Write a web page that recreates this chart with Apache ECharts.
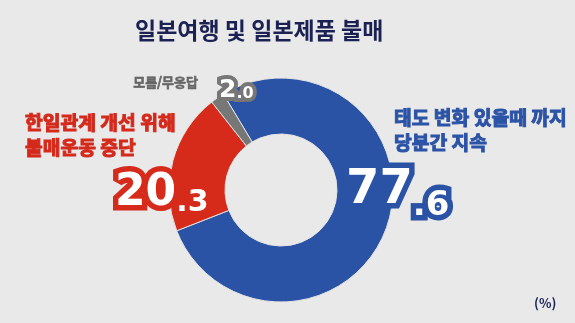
<!DOCTYPE html>
<html><head><meta charset="utf-8">
<script src="https://cdn.jsdelivr.net/npm/echarts@6/dist/echarts.min.js"></script>
<style>html,body{margin:0;padding:0;background:#e9e9e9}#c{width:575px;height:323px}</style>
</head><body><div id="c"></div>
<script>
const chartTitle = '일본여행 및 일본제품 불매';
const unitLabel = '(%)';
const categories = ['태도 변화 있을때 까지\n당분간 지속', '한일관계 개선 위해\n불매운동 중단', '모름/무응답'];
const values = [77.6, 20.3, 2.0];
const colors = ['#2a52a5', '#d62b1a', '#777777'];
const nameColors = ['#2b53a6', '#d42a1c', '#676767'];

const KR = "'Noto Sans CJK KR', sans-serif";
const NUM = "'DejaVu Sans', sans-serif";

// per-item number styling: [bigSize, smallSize, smallPadTop]
const numStyle = [[48, 34, 22], [44, 30, 16], [25, 16, 8]];
function makeRich(outline) {
  const rich = {};
  numStyle.forEach((s, i) => {
    const base = {fontFamily: NUM, fontWeight: 'bold', verticalAlign: 'top'};
    if (outline) Object.assign(base, {color: colors[i], textBorderColor: colors[i], textBorderWidth: i === 2 ? 8 : 11});
    else Object.assign(base, {color: '#fff', textBorderWidth: 0});
    rich['a' + i] = Object.assign({}, base, {fontSize: s[0], lineHeight: s[0]});
    rich['b' + i] = Object.assign({}, base, {fontSize: s[1], lineHeight: s[1], padding: [s[2], 0, 0, 0]});
  });
  return rich;
}
const numPos = [[346, 167], [115, 172], [219, 78]];
const namePos = [[394, 105, 'left'], [25, 110, 'left'], [198, 74, 'right']];
const nameRich = {};
[19.3, 19.3, 13].forEach((fs, i) => {
  nameRich['n' + i] = {color: nameColors[i], fontFamily: KR, fontWeight: 'bold', fontSize: fs, lineHeight: i === 2 ? 16 : 25,
    textBorderColor: nameColors[i], textBorderWidth: i === 2 ? 0.6 : 1};
});

const pieBase = {type: 'pie', radius: [56, 112], center: [281, 190], startAngle: 121, clockwise: true, avoidLabelOverlap: false, silent: true, labelLine: {show: false}};

function numberSeries(outline, z) {
  return Object.assign({}, pieBase, {
    z: z,
    itemStyle: {color: 'rgba(0,0,0,0)', borderWidth: 0},
    data: categories.map((c, i) => ({name: c, value: values[i]})),
    label: {
      show: true, position: 'outside',
      formatter: p => {
        const parts = values[p.dataIndex].toFixed(1).split('.');
        return '{a' + p.dataIndex + '|' + parts[0] + '}{b' + p.dataIndex + '|.' + parts[1] + '}';
      },
      rich: makeRich(outline)
    },
    labelLayout: p => ({x: numPos[p.dataIndex][0], y: numPos[p.dataIndex][1], align: 'left', verticalAlign: 'top'})
  });
}

const chart = echarts.init(document.getElementById('c'), null, {renderer: 'canvas'});
chart.setOption({
  backgroundColor: '#e9e9e9',
  animation: false,
  title: [
    {text: chartTitle, left: 130, top: 14, textStyle: {fontFamily: KR, fontWeight: 'bold', fontSize: 23, color: '#1b2152'}},
    {text: unitLabel, left: 529, top: 292, textStyle: {fontFamily: KR, fontWeight: 'bold', fontSize: 13, color: '#1b2152'}}
  ],
  series: [
    Object.assign({}, pieBase, {
      z: 1,
      itemStyle: {borderColor: '#e4e4e4', borderWidth: 1},
      data: categories.map((c, i) => ({name: c, value: values[i], itemStyle: {color: colors[i]}})),
      label: {
        show: true, position: 'outside',
        formatter: p => p.name.split('\n').map(l => '{n' + p.dataIndex + '|' + l + '}').join('\n'),
        rich: nameRich
      },
      labelLayout: p => ({x: namePos[p.dataIndex][0], y: namePos[p.dataIndex][1], align: namePos[p.dataIndex][2], verticalAlign: 'top'})
    }),
    numberSeries(true, 2),
    numberSeries(false, 3)
  ]
});
</script></body></html>
